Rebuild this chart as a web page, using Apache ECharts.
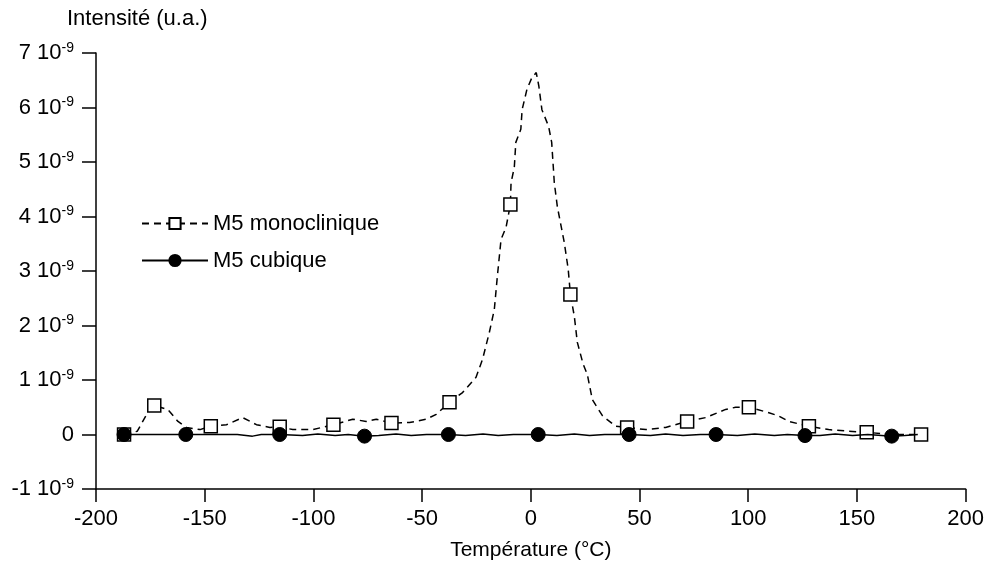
<!DOCTYPE html>
<html><head><meta charset="utf-8">
<script src="https://cdn.jsdelivr.net/npm/echarts@6/dist/echarts.min.js"></script>
<style>html,body{margin:0;padding:0;background:#fff}#c{width:987px;height:570px}</style>
</head><body><div id="c"></div>
<script>
// Intensity values in units of 1e-9 (u.a.)
const xTitle = 'Température (°C)';
const yTitle = 'Intensité (u.a.)';
const seriesNames = ['M5 monoclinique', 'M5 cubique'];
const xTicks = [-200, -150, -100, -50, 0, 50, 100, 150, 200];
const yTicks = [-1, 0, 1, 2, 3, 4, 5, 6, 7];

// M5 monoclinique: marker points
const monoMarkT = [-187.1, -173.2, -147.2, -115.5, -90.8, -64.1, -37.4, -9.4, 18.2, 44.3, 71.9, 100.3, 127.9, 154.5, 179.5];
const monoMarkV = [0, 0.53, 0.15, 0.14, 0.18, 0.21, 0.59, 4.22, 2.57, 0.13, 0.24, 0.5, 0.15, 0.04, 0];
// M5 monoclinique: curve points between markers
const monoCurveT = [-181, -176.7, -167, -162.3, -158.4, -152.2, -140, -132.5, -126.2, -120, -109.5, -100.3, -81.9, -75.7, -71.1, -55.8, -48.1, -43.5, -31.4, -25.2, -22.2, -19.1, -16.8, -15.4, -13.7, -11.4, -9.1, -7.6, -6.9, -4.6, -4.0, -1.8, 0.5, 2.5, 3.7, 5.1, 8.2, 9.6, 10.8, 12.2, 15.4, 17.2, 20, 21.4, 24, 26, 28.3, 33, 39.1, 52.9, 62, 80.4, 89.6, 94.2, 109.5, 114, 118.7, 137, 146.3, 166];
const monoCurveV = [0.06, 0.37, 0.46, 0.24, 0.13, 0.09, 0.18, 0.31, 0.18, 0.13, 0.09, 0.09, 0.28, 0.24, 0.28, 0.22, 0.28, 0.37, 0.77, 1.05, 1.38, 1.87, 2.29, 2.9, 3.58, 3.8, 4.62, 4.9, 5.36, 5.6, 5.96, 6.33, 6.55, 6.64, 6.39, 5.96, 5.65, 5.36, 4.62, 4.18, 3.52, 3.03, 2.17, 1.69, 1.3, 1.1, 0.64, 0.34, 0.15, 0.09, 0.13, 0.31, 0.46, 0.5, 0.4, 0.34, 0.24, 0.09, 0.06, 0.0];

// M5 cubique: marker points
const cubMarkT = [-187.1, -158.7, -115.5, -76.5, -37.9, 3.4, 45.2, 85.2, 126.1, 166];
const cubMarkV = [0, 0, 0, -0.03, 0, 0, 0, 0, -0.02, -0.03];
// M5 cubique: curve points between markers (small noise)
const cubCurveT = [-170, -150, -135, -128, -124, -105, -98, -90, -84, -70, -62, -55, -48, -30, -22, -15, -8, 12, 20, 27, 34, 55, 62, 70, 78, 95, 103, 112, 118, 133, 140, 148, 155, 172, 178];
const cubCurveV = [0, 0, 0, -0.03, 0, -0.02, 0.01, -0.02, 0, -0.02, 0.01, -0.02, 0, -0.02, 0.01, -0.02, 0, -0.02, 0.01, -0.02, 0, -0.02, 0.01, -0.02, 0, -0.02, 0.01, -0.02, 0, -0.02, 0.01, -0.02, 0, -0.02, 0];

function build(mt, mv, ct, cv) {
  const pts = [];
  mt.forEach((t, i) => pts.push({ value: [t, mv[i]], m: true }));
  ct.forEach((t, i) => pts.push({ value: [t, cv[i]], m: false }));
  pts.sort((a, b) => a.value[0] - b.value[0]);
  return pts.map(p => p.m ? { value: p.value } : { value: p.value, symbol: 'none' });
}

const FONT = 'Liberation Sans, Arial, sans-serif';
const FS = 22;
const chart = echarts.init(document.getElementById('c'), null, { renderer: 'canvas' });
chart.setOption({
  animation: false,
  backgroundColor: '#fff',
  textStyle: { fontFamily: FONT, color: '#000' },
  grid: { left: 96, right: 20, top: 53, bottom: 81, containLabel: false },
  title: { text: yTitle, left: 62, top: 3, textStyle: { fontFamily: FONT, fontSize: FS, fontWeight: 'normal', color: '#000' } },
  legend: {
    orient: 'vertical', left: 141, top: 212, padding: 0, itemWidth: 66, itemHeight: 14, itemGap: 14,
    textStyle: { fontFamily: FONT, fontSize: FS, lineHeight: 23, color: '#000' },
    data: seriesNames
  },
  xAxis: {
    type: 'value', min: xTicks[0], max: xTicks[xTicks.length - 1], interval: 50,
    name: xTitle, nameLocation: 'middle', nameGap: 51,
    nameTextStyle: { fontFamily: FONT, fontSize: 21, color: '#000' },
    axisLine: { onZero: false, lineStyle: { color: '#000', width: 1.5 } },
    axisTick: { show: true, length: 13, inside: false, lineStyle: { color: '#000', width: 1.5 } },
    axisLabel: { fontFamily: FONT, fontSize: FS, color: '#000', margin: 19 },
    splitLine: { show: false }
  },
  yAxis: {
    type: 'value', min: yTicks[0], max: yTicks[yTicks.length - 1], interval: 1,
    axisLine: { show: true, onZero: false, lineStyle: { color: '#000', width: 1.5 } },
    axisTick: { show: true, length: 14, lineStyle: { color: '#000', width: 1.5 } },
    axisLabel: {
      fontFamily: FONT, color: '#000', margin: 22,
      formatter: v => { const n = Math.round(v); return n === 0 ? '{m|0}' : '{m|' + n + ' 10}{e|-9}'; },
      rich: {
        m: { fontFamily: FONT, fontSize: FS, color: '#000' },
        e: { fontFamily: FONT, fontSize: 14, color: '#000', verticalAlign: 'top', padding: [0, 0, 10, 0] }
      }
    },
    splitLine: { show: false }
  },
  series: [
    {
      name: seriesNames[0], type: 'line', data: build(monoMarkT, monoMarkV, monoCurveT, monoCurveV),
      symbol: 'rect', symbolSize: 13, showAllSymbol: true,
      itemStyle: { color: '#fff', borderColor: '#000', borderWidth: 1.5 },
      lineStyle: { color: '#000', width: 1.5, type: [7, 5] },
      z: 2
    },
    {
      name: seriesNames[1], type: 'line', data: build(cubMarkT, cubMarkV, cubCurveT, cubCurveV),
      symbol: 'circle', symbolSize: 14, showAllSymbol: true,
      itemStyle: { color: '#000', borderColor: '#000', borderWidth: 1 },
      lineStyle: { color: '#000', width: 1.5, type: 'solid' },
      z: 3
    }
  ]
});
</script></body></html>
